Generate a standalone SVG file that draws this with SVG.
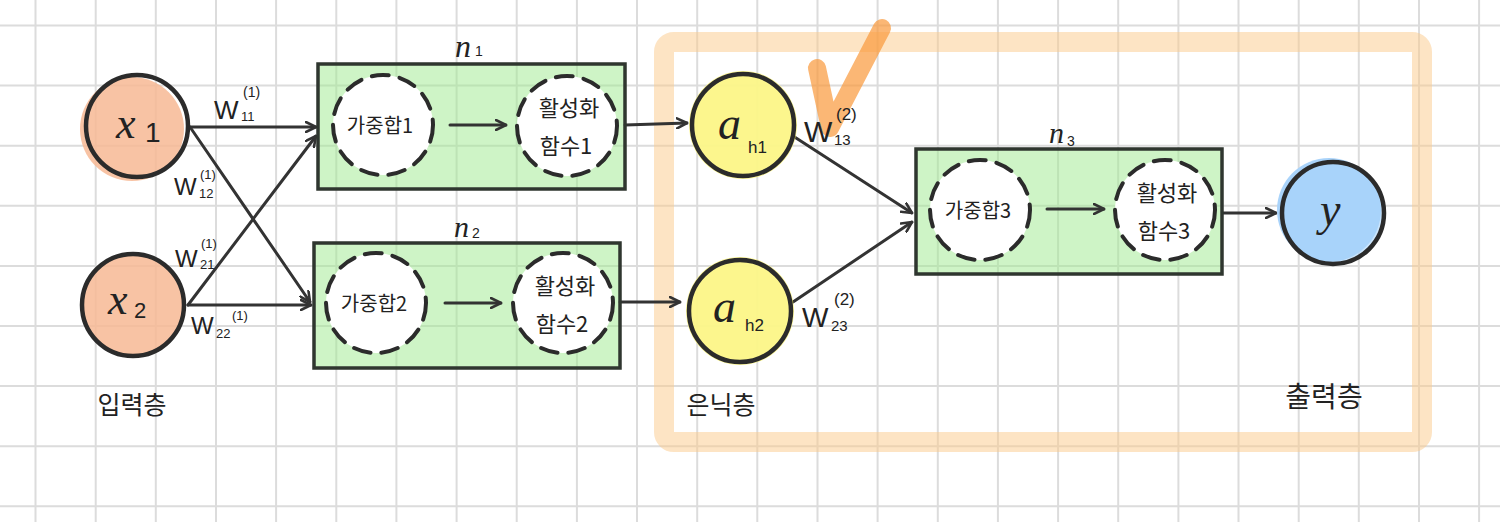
<svg xmlns="http://www.w3.org/2000/svg" width="1500" height="522" viewBox="0 0 1500 522">
<defs>
<marker id="arr" viewBox="0 0 12 12" refX="11" refY="6" markerWidth="12" markerHeight="12" markerUnits="userSpaceOnUse" orient="auto">
<path d="M1,1 L11,6 L1,11" fill="none" stroke="#333" stroke-width="2.6" stroke-linecap="round" stroke-linejoin="round"/>
</marker>
<style>
.grid{stroke:#dcdcdc;stroke-width:2;fill:none}
.edge{stroke:#333;stroke-width:3;fill:none;stroke-linecap:round;marker-end:url(#arr)}
.node{stroke:#2b2b2b;stroke-width:4.5}
.box{fill:#9eea8e;fill-opacity:0.5;stroke:#2f362f;stroke-width:3.5}
.dash{fill:#fff;stroke:#2b2b2b;stroke-width:4;stroke-dasharray:17 11;stroke-linecap:round}
.math{font-family:"Liberation Serif",serif;font-style:italic;fill:#222}
.w{font-family:"Liberation Sans",sans-serif;fill:#222}
.ko{font-family:"Noto Sans CJK KR",sans-serif;fill:#222;text-anchor:middle}
</style>
</defs>
<rect width="1500" height="522" fill="#fff"/>
<path class="grid" d="M35.5 0V522M95.7 0V522M155.8 0V522M216 0V522M276.1 0V522M336.3 0V522M396.4 0V522M456.6 0V522M516.7 0V522M576.9 0V522M637 0V522M697.2 0V522M757.3 0V522M817.5 0V522M877.6 0V522M937.8 0V522M997.9 0V522M1058.1 0V522M1118.2 0V522M1178.4 0V522M1238.5 0V522M1298.7 0V522M1358.8 0V522M1419 0V522M1479.1 0V522M0 25.5H1500M0 85.6H1500M0 145.7H1500M0 205.8H1500M0 265.9H1500M0 326H1500M0 386.1H1500M0 446.2H1500M0 506.3H1500"/>
<g id="hidden-output-frame">
<rect x="664" y="42" width="758" height="400" rx="10" fill="none" stroke="#fcc98a" stroke-opacity="0.5" stroke-width="20"/>
<path d="M817 68 L830 128 L882 28" fill="none" stroke="#f9993a" stroke-opacity="0.7" stroke-width="18" stroke-linecap="round" stroke-linejoin="round"/>
</g>
<g id="connectors">
<line class="edge" x1="190" y1="127" x2="316" y2="127"/>
<line class="edge" x1="190" y1="127" x2="310" y2="302"/>
<line class="edge" x1="188" y1="305" x2="316" y2="136"/>
<line class="edge" x1="188" y1="305" x2="311" y2="305"/>
<line class="edge" x1="625" y1="125" x2="687" y2="123"/>
<line class="edge" x1="620" y1="302" x2="680" y2="302"/>
<line class="edge" x1="793" y1="136" x2="912" y2="213"/>
<line class="edge" x1="793" y1="302" x2="912" y2="222"/>
<line class="edge" x1="1223" y1="213" x2="1276" y2="213"/>
<g class="w">
<text x="214" y="119" font-size="26">W</text><text x="241" y="121" font-size="13">11</text><text x="243" y="97" font-size="14">(1)</text>
<text x="174" y="195" font-size="24">W</text><text x="199" y="198" font-size="13">12</text><text x="200" y="179" font-size="13">(1)</text>
<text x="175" y="267" font-size="24">W</text><text x="200" y="269" font-size="13">21</text><text x="201" y="248" font-size="13">(1)</text>
<text x="191" y="334" font-size="24">W</text><text x="216" y="338" font-size="13">22</text><text x="232" y="320" font-size="13">(1)</text>
<text x="804" y="142" font-size="30">W</text><text x="834" y="145" font-size="15">13</text><text x="836" y="120" font-size="17">(2)</text>
<text x="802" y="327" font-size="28">W</text><text x="831" y="331" font-size="15">23</text><text x="834" y="305" font-size="17">(2)</text>
</g>
</g>
<g id="x1">
<circle cx="132" cy="129" r="52" fill="#f7b994" fill-opacity="0.85"/>
<circle class="node" cx="137" cy="126" r="51" fill="none"/>
<text class="math" x="116" y="138" font-size="44">x</text><text class="w" x="145" y="142" font-size="28">1</text>
</g>
<g id="x2">
<circle cx="133" cy="305" r="51" fill="#f7b994" fill-opacity="0.85"/>
<circle class="node" cx="133" cy="305" r="51" fill="none"/>
<text class="math" x="108" y="314" font-size="44">x</text><text class="w" x="134" y="318" font-size="22">2</text>
</g>
<g id="n1">
<rect class="box" x="318" y="64" width="307" height="125"/>
<text class="math" x="455" y="57" font-size="32">n</text><text class="w" x="475" y="56" font-size="14">1</text>
<circle class="dash" cx="383" cy="125" r="50"/>
<text class="ko" x="380" y="133" font-size="20">가중합1</text>
<line class="edge" x1="450" y1="125" x2="506" y2="125"/>
<circle class="dash" cx="567" cy="126" r="50"/>
<text class="ko" x="569" y="116" font-size="22">활성화</text>
<text class="ko" x="566" y="154" font-size="22">함수1</text>
</g>
<g id="n2">
<rect class="box" x="314" y="243" width="306" height="125"/>
<text class="math" x="454" y="237" font-size="30">n</text><text class="w" x="472" y="238" font-size="14">2</text>
<circle class="dash" cx="376" cy="303" r="50"/>
<text class="ko" x="374" y="311" font-size="20">가중합2</text>
<line class="edge" x1="445" y1="303" x2="501" y2="303"/>
<circle class="dash" cx="563" cy="303" r="50"/>
<text class="ko" x="565" y="294" font-size="22">활성화</text>
<text class="ko" x="562" y="332" font-size="22">함수2</text>
</g>
<g id="ah1">
<circle cx="743" cy="125" r="54" fill="#fbf36a" fill-opacity="0.7"/>
<circle class="node" cx="743" cy="125" r="51" fill="#fcf68c" fill-opacity="0.85"/>
<text class="math" x="718" y="139" font-size="46">a</text><text class="w" x="748" y="153" font-size="17">h1</text>
</g>
<g id="ah2">
<circle cx="740" cy="311" r="54" fill="#fbf36a" fill-opacity="0.7"/>
<circle class="node" cx="740" cy="311" r="51" fill="#fcf68c" fill-opacity="0.85"/>
<text class="math" x="713" y="322" font-size="46">a</text><text class="w" x="745" y="331" font-size="17">h2</text>
</g>
<g id="n3">
<rect class="box" x="916" y="149" width="306" height="125"/>
<text class="math" x="1049" y="143" font-size="30">n</text><text class="w" x="1067" y="146" font-size="14">3</text>
<circle class="dash" cx="980" cy="210" r="50"/>
<text class="ko" x="978" y="218" font-size="20">가중합3</text>
<line class="edge" x1="1047" y1="209" x2="1104" y2="209"/>
<circle class="dash" cx="1165" cy="210" r="50"/>
<text class="ko" x="1167" y="201" font-size="22">활성화</text>
<text class="ko" x="1164" y="239" font-size="22">함수3</text>
</g>
<g id="y">
<circle cx="1329" cy="210" r="52" fill="#a9d3fa"/>
<circle class="node" cx="1333" cy="213" r="51" fill="#a9d3fa" fill-opacity="0.6"/>
<text class="math" x="1320" y="225" font-size="46">y</text>
</g>
<g id="layer-labels">
<text class="ko" x="132" y="414" font-size="25">입력층</text>
<text class="ko" x="721" y="414" font-size="25">은닉층</text>
<text class="ko" x="1324" y="407" font-size="28">출력층</text>
</g>
</svg>
